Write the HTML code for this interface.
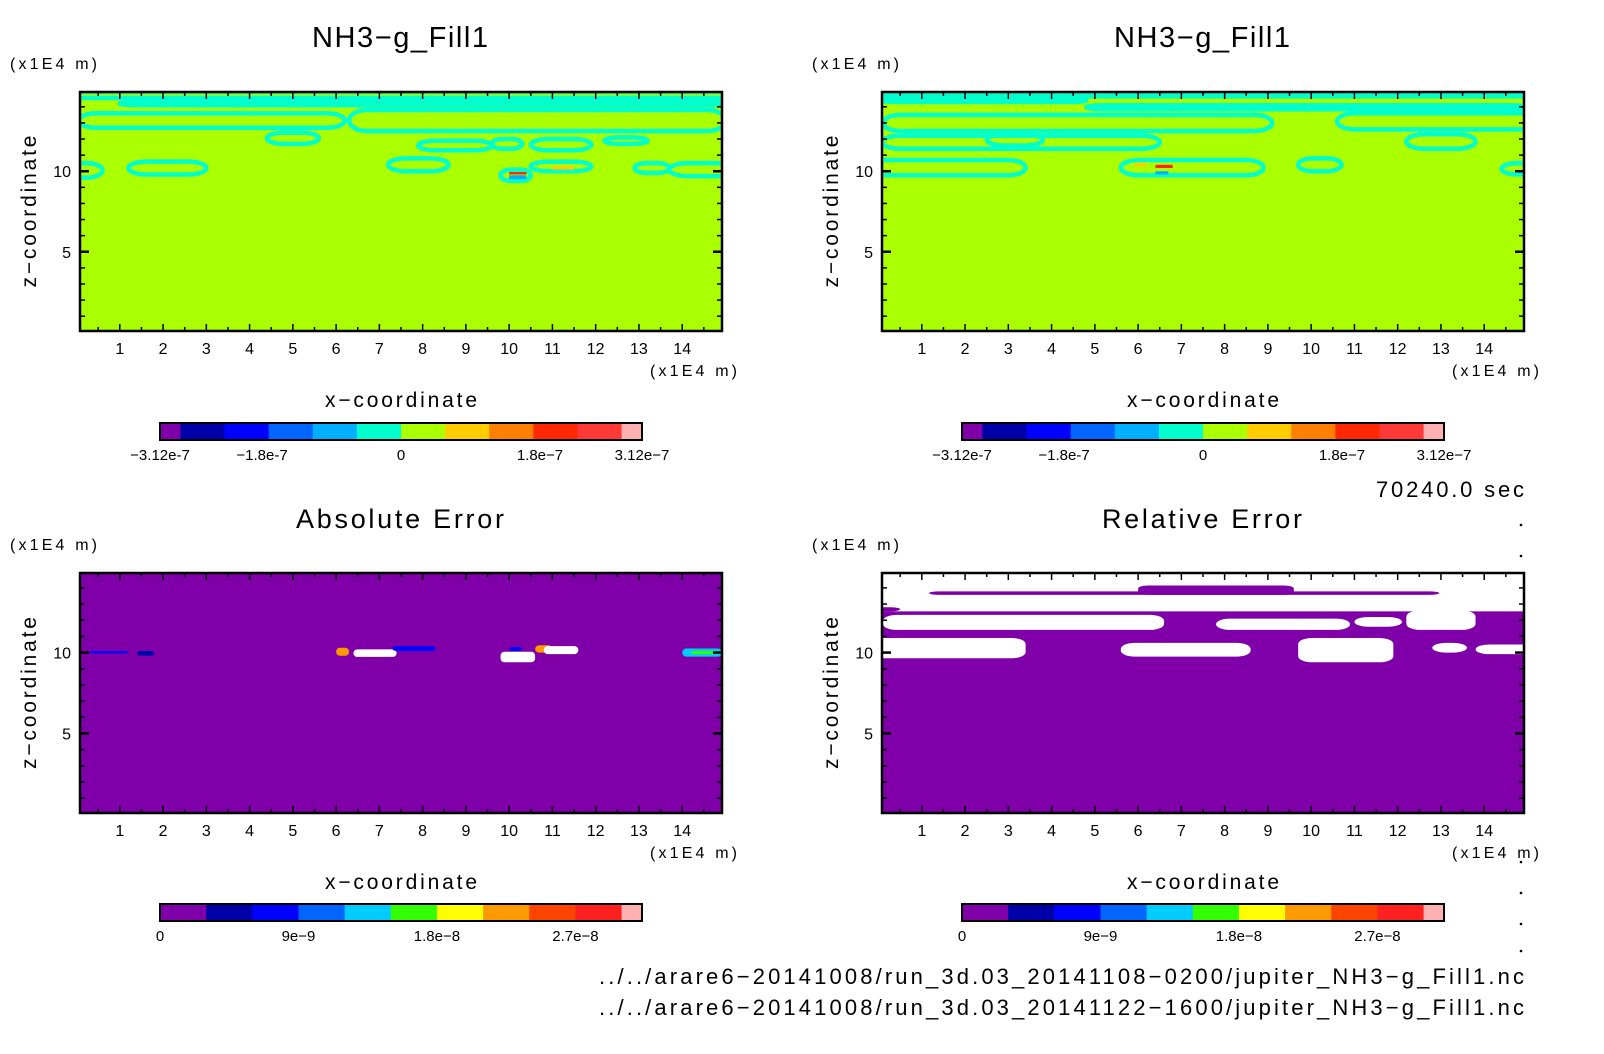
<!DOCTYPE html>
<html><head><meta charset="utf-8"><style>
html,body{margin:0;padding:0;background:#fff;}
svg{display:block;font-family:"Liberation Sans",sans-serif;}
</style></head><body>
<svg id="fig" width="1604" height="1054" viewBox="0 0 1604 1054"></svg>
<script>
// ---- data ----
const xTicks=[1,2,3,4,5,6,7,8,9,10,11,12,13,14];
const zTicks=[5,10];
const domain=[0.08,14.92];
const topLevelsLabels=["-3.12e-7","-1.8e-7","0","1.8e-7","3.12e-7"];
const topLevelsPos=[0,1.85,5,8.15,10];
const topColors=["#7f00a8","#0000a8","#0000ff","#0066ff","#00b0ff","#00ffcc","#aaff00","#ffcc00","#ff8000","#ff2800","#ff3838","#ffb0b0"];
const botLevelsLabels=["0","9e-9","1.8e-8","2.7e-8"];
const botLevelsPos=[0,3,6,9];
const botColors=["#7f00a8","#0000a8","#0000ff","#0066ff","#00ccff","#33ff00","#ffff00","#ff9900","#ff4400","#ff2020","#ffb0b0"];
// contour loops [x0,x1,zTop,zBot]
const loopsTL=[[-1,16,14.92,14.55],[0.05,6.2,13.6,12.7],[6.3,15,13.8,12.5],[1,15,14.3,14.1],[4.4,5.6,12.4,11.7],[7.9,9.6,11.9,11.3],[9.6,10.3,12.0,11.4],[10.5,11.9,12.0,11.3],[12.2,13.2,12.1,11.7],[1.2,3.0,10.6,9.8],[7.2,8.6,10.8,10.0],[-0.5,0.6,10.5,9.6],[9.8,10.5,10.1,9.4],[10.5,11.9,10.6,10.0],[12.9,13.7,10.5,9.9],[13.7,15.5,10.5,9.7]];
const loopsTR=[[-1,16,14.92,14.65],[0.08,4.8,14.5,14.3],[4.8,15,14.1,13.85],[0.1,9.1,13.5,12.5],[10.6,15.5,13.6,12.6],[0.08,6.5,12.2,11.4],[2.5,3.8,12.3,11.6],[12.2,13.8,12.3,11.4],[-0.5,3.4,10.7,9.75],[5.6,8.9,10.7,9.75],[9.7,10.7,10.8,10.0],[14.4,15.5,10.5,9.8]];
// hot spots [x0,x1,zTop,zBot,colorIndex]
const spotsTL=[[10.0,10.4,9.95,9.8,9],[10.0,10.4,9.75,9.5,4],[11.0,11.5,10.3,10.1,7]];
const spotsTR=[[6.4,6.8,10.4,10.2,9],[6.4,6.7,10.0,9.8,4],[5.9,6.2,10.5,10.3,7]];
// abs error spots [x0,x1,zTop,zBot,colorIndex] (-1 = white)
const spotsBL=[[0.3,1.2,10.1,9.95,2],[1.4,1.8,10.1,9.8,1],[6.0,6.3,10.3,9.8,7],[6.4,7.4,10.2,9.73,-1],[7.3,8.3,10.4,10.1,2],[9.8,10.6,10.05,9.4,-1],[10.0,10.3,10.35,10.1,2],[10.6,11.0,10.45,10.0,7],[10.8,11.6,10.4,9.9,-1],[14.0,14.92,10.25,9.75,4],[14.2,14.92,10.1,9.9,5]];
// rel error white regions [x0,x1,zTop,zBot]
const whiteBR=[[-1,16,14.92,12.55],[0.1,6.6,12.33,11.4],[7.8,10.9,12.1,11.4],[11.0,12.1,12.2,11.6],[12.2,13.8,12.6,11.4],[-1,3.4,10.9,9.65],[5.6,8.6,10.6,9.75],[9.7,11.9,10.9,9.4],[12.8,13.6,10.6,10.0],[13.8,16,10.5,9.9]];
const purpleBR=[[1.17,12.96,13.78,13.57],[6.0,9.6,14.15,13.57],[-1,0.5,12.8,12.55]];

const NS="http://www.w3.org/2000/svg";
const svg=document.getElementById('fig');
function el(t,a,p){const e=document.createElementNS(NS,t);for(const k in a)e.setAttribute(k,a[k]);(p||svg).appendChild(e);return e;}
function txt(s,a,p){const e=el('text',a,p);e.textContent=s;return e;}

function panel(px0,px1,py0,py1,name,bg){
  const g=el('g',{});
  
  
  const sx=v=>px0+(v-domain[0])/(domain[1]-domain[0])*(px1-px0);
  const sz=v=>py1-(v-domain[0])/(domain[1]-domain[0])*(py1-py0);
  const cid='c'+name;
  const cp=el('clipPath',{id:cid},g);el('rect',{x:px0,y:py0,width:px1-px0,height:py1-py0},cp);
  const plot=el('g',{'clip-path':'url(#'+cid+')'},g);
  el('rect',{x:px0,y:py0,width:px1-px0,height:py1-py0,fill:bg},plot);
  return {g,plot,sx,sz,px0,px1,py0,py1};
}
function axes(P){
  const {g,sx,sz,px0,px1,py0,py1}=P;
  for(let v=0.5;v<15;v+=0.5){const x=sx(v);const L=(v%1===0)?7:4;
    el('line',{x1:x,x2:x,y1:py0,y2:py0+L,stroke:'#000','stroke-width':1.5},g);
    el('line',{x1:x,x2:x,y1:py1,y2:py1-L,stroke:'#000','stroke-width':1.5},g);}
  for(let v=1;v<15;v+=1){const y=sz(v);const L=(v%5===0)?9:5;
    el('line',{x1:px0,x2:px0+L,y1:y,y2:y,stroke:'#000','stroke-width':(v%5===0)?2.5:1.5},g);
    el('line',{x1:px1,x2:px1-L,y1:y,y2:y,stroke:'#000','stroke-width':(v%5===0)?2.5:1.5},g);}
  el('rect',{x:px0,y:py0,width:px1-px0,height:py1-py0,fill:'none',stroke:'#000','stroke-width':2.5},g);
  xTicks.forEach(v=>{const t=txt(String(v),{x:sx(v),y:py1+23,'font-size':16,'text-anchor':'middle'},g);
    });
  zTicks.forEach(v=>{const t=txt(String(v),{x:px0-9,y:sz(v)+6,'font-size':16,'text-anchor':'end'},g);
    });
  const u=txt('(x1E4 m)',{x:px1+15,y:py1+45,'font-size':16,'text-anchor':'end',textLength:87},g);
  
  const u2=txt('(x1E4 m)',{x:px0-70,y:py0-23,'font-size':16,textLength:87},g);
  
  const xt=txt('x\u2212coordinate',{x:(px0+px1)/2,y:py1+76,'font-size':21,'text-anchor':'middle',textLength:152},g);
  
  const yt=txt('z\u2212coordinate',{x:0,y:0,'font-size':21,'text-anchor':'middle',textLength:152,transform:'translate('+(px0-44)+','+((py0+py1)/2)+') rotate(-90)'},g);
  
}
function title(s,cx,y){const t=txt(s,{x:cx,y:y,'font-size':29,'text-anchor':'middle',textLength:176});
  }
function colorbar(x0,x1,y0,y1,colors,narrowFirst,labels,pos,nameP){
  const g=el('g',{});
  const nw=(x1-x0)*20/472;
  const nWide=colors.length-(narrowFirst?2:1);
  const ww=(x1-x0-nw*(narrowFirst?2:1))/nWide;
  let x=x0;
  colors.forEach((c,i)=>{const w=((narrowFirst&&i===0)||i===colors.length-1)?nw:ww;
    const r=el('rect',{x:x,y:y0,width:w+0.5,height:y1-y0,fill:c},g);
    x+=w;});
  el('rect',{x:x0,y:y0,width:x1-x0,height:y1-y0,fill:'none',stroke:'#000','stroke-width':2},g);
  labels.forEach((s,i)=>{let lx;
    if(narrowFirst){lx=x0+nw+pos[i]*ww;if(i===0)lx=x0;if(i===labels.length-1)lx=x1;}
    else lx=x0+pos[i]*ww;
    const t=txt(s.replace('-','\u2212'),{x:lx,y:y1+20,'font-size':15,'text-anchor':'middle'},g);
    });
}
function loops(P,arr,spots){
  arr.forEach(b=>{const r=el('rect',{x:P.sx(b[0]),y:P.sz(b[2]),width:P.sx(b[1])-P.sx(b[0]),height:P.sz(b[3])-P.sz(b[2]),
    rx:Math.min(18,(P.sx(b[1])-P.sx(b[0]))/3),ry:(P.sz(b[3])-P.sz(b[2]))/2,fill:'none',stroke:'#00ffcc','stroke-width':4.5},P.plot);
    });
  spots.forEach(b=>{const r=el('rect',{x:P.sx(b[0]),y:P.sz(b[2]),width:P.sx(b[1])-P.sx(b[0]),height:P.sz(b[3])-P.sz(b[2]),
    fill:b[4]<0?'#fff':topColors[b[4]]},P.plot);
    });
}

const TL=panel(80,722,92,331,'panel-top-left','#aaff00');loops(TL,loopsTL,spotsTL);axes(TL);
title('NH3\u2212g_Fill1',400,47);
colorbar(160,642,423,440,topColors,true,topLevelsLabels,topLevelsPos,'colorbar-top-left');
const TR=panel(882,1524,92,331,'panel-top-right','#aaff00');loops(TR,loopsTR,spotsTR);axes(TR);
title('NH3\u2212g_Fill1',1202,47);
colorbar(962,1444,423,440,topColors,true,topLevelsLabels,topLevelsPos,'colorbar-top-right');
const BL=panel(80,722,573,813,'panel-bottom-left','#7f00a8');
spotsBL.forEach(b=>{const r=el('rect',{x:BL.sx(b[0]),y:BL.sz(b[2]),width:BL.sx(b[1])-BL.sx(b[0]),height:BL.sz(b[3])-BL.sz(b[2]),
  rx:4,fill:b[4]<0?'#fff':botColors[b[4]]},BL.plot);
  });
axes(BL);
const t3=txt('Absolute Error',{x:400,y:528,'font-size':27,'text-anchor':'middle',textLength:208});

colorbar(160,642,904,921,botColors,false,botLevelsLabels,botLevelsPos,'colorbar-bottom-left');
const BR=panel(882,1524,573,813,'panel-bottom-right','#7f00a8');
whiteBR.forEach(b=>{const r=el('rect',{x:BR.sx(b[0]),y:BR.sz(b[2]),width:BR.sx(b[1])-BR.sx(b[0]),height:BR.sz(b[3])-BR.sz(b[2]),
  rx:14,ry:6,fill:'#fff'},BR.plot);
  });
purpleBR.forEach(b=>{const r=el('rect',{x:BR.sx(b[0]),y:BR.sz(b[2]),width:BR.sx(b[1])-BR.sx(b[0]),height:BR.sz(b[3])-BR.sz(b[2]),
  rx:10,ry:3,fill:'#7f00a8'},BR.plot);
  });
axes(BR);
const t4=txt('Relative Error',{x:1202,y:528,'font-size':27,'text-anchor':'middle',textLength:200});

colorbar(962,1444,904,921,botColors,false,botLevelsLabels,botLevelsPos,'colorbar-bottom-right');

const tm=txt('70240.0 sec',{x:1524,y:497,'font-size':22,'text-anchor':'end',textLength:148});

[525,556,862,893,924,951].forEach(y=>{el('circle',{cx:1521,cy:y,r:1.3,fill:'#000'});});
const p1=txt('../../arare6\u221220141008/run_3d.03_20141108\u22120200/jupiter_NH3\u2212g_Fill1.nc',{x:1524,y:984,'font-size':22,'text-anchor':'end',textLength:925});

const p2=txt('../../arare6\u221220141008/run_3d.03_20141122\u22121600/jupiter_NH3\u2212g_Fill1.nc',{x:1524,y:1015,'font-size':22,'text-anchor':'end',textLength:925});

</script>
</body></html>
